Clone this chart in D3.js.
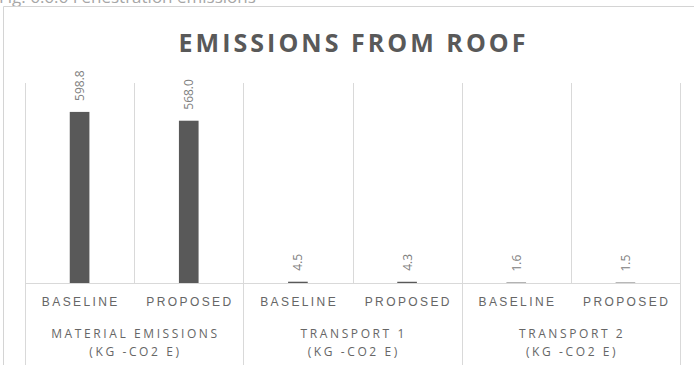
<!DOCTYPE html>
<html lang="en">
<head>
    <meta charset="UTF-8">
    <title>Emissions from Roof</title>
    <script src="https://d3js.org/d3.v7.min.js"></script>
    <style>
        body { margin: 0; background: #fff; }
        svg { display: block; font-family: "Open Sans", sans-serif; }
        .sub-axis text { font-size: 12px; fill: #666; letter-spacing: 2.4px; }
        .group-label { font-size: 12px; fill: #666; letter-spacing: 2.6px; }
        .value-label { font-size: 12px; fill: #808080; }
        .grid { stroke: #d9d9d9; stroke-width: 1px; }
    </style>
</head>
<body>
    <svg width="694" height="365"></svg>

    <script>
        // Chart data
        const subLabels = ["BASELINE", "PROPOSED", "BASELINE", "PROPOSED", "BASELINE", "PROPOSED"];
        const groupLines = [
            ["MATERIAL EMISSIONS", "(KG -CO2 E)"],
            ["TRANSPORT 1", "(KG -CO2 E)"],
            ["TRANSPORT 2", "(KG -CO2 E)"]
        ];
        const values = [598.8, 568.0, 4.5, 4.3, 1.6, 1.5];
        const yMax = 700;

        const svg = d3.select("svg");
        const plot = { left: 25, right: 680, top: 83, bottom: 283 };

        // Caption above the chart box (cut off at the top)
        svg.append("text")
            .attr("x", -1)
            .attr("y", 3)
            .attr("font-size", 17)
            .attr("fill", "#a6a6a6")
            .text("Fig. 6.6.6 Fenestration emissions");

        // Chart frame
        svg.append("path")
            .attr("d", "M3.5,365 V6.5 H700")
            .attr("fill", "none")
            .attr("stroke", "#d4d4d4");

        // Title
        svg.append("text")
            .attr("x", 352)
            .attr("y", 52)
            .attr("text-anchor", "middle")
            .attr("font-size", 25)
            .attr("font-weight", "bold")
            .attr("fill", "#595959")
            .attr("textLength", 347)
            .attr("lengthAdjust", "spacing")
            .text("EMISSIONS FROM ROOF");

        const idx = values.map((d, i) => i);

        const x = d3.scaleBand()
            .domain(idx)
            .range([plot.left, plot.right])
            .paddingInner(0)
            .paddingOuter(0);

        const y = d3.scaleLinear()
            .domain([0, yMax])
            .range([plot.bottom, plot.top]);

        // Vertical grid lines between categories
        const edges = idx.map(i => x(i)).concat([plot.right]);
        svg.selectAll(".vline")
            .data(edges)
          .enter().append("line")
            .attr("class", "grid")
            .attr("x1", d => Math.round(d) + 0.5)
            .attr("x2", d => Math.round(d) + 0.5)
            .attr("y1", plot.top)
            .attr("y2", (d, i) => i % 2 === 0 ? 365 : plot.bottom);

        // Bars
        const barW = x.bandwidth() * 0.18;
        svg.selectAll(".bar")
            .data(values)
          .enter().append("rect")
            .attr("x", (d, i) => x(i) + (x.bandwidth() - barW) / 2)
            .attr("y", d => y(d))
            .attr("width", barW)
            .attr("height", d => y(0) - y(d))
            .attr("fill", "#595959");

        // Value labels (rotated)
        svg.selectAll(".value-label")
            .data(values)
          .enter().append("text")
            .attr("class", "value-label")
            .attr("transform", (d, i) =>
                `translate(${x(i) + x.bandwidth() / 2 + 4.5},${y(d) - 11}) rotate(-90)`)
            .text(d => d.toFixed(1));

        // Baseline axis line
        svg.append("line")
            .attr("class", "grid")
            .attr("x1", plot.left)
            .attr("x2", plot.right)
            .attr("y1", plot.bottom + 0.5)
            .attr("y2", plot.bottom + 0.5);

        // Sub category axis
        const subAxis = svg.append("g")
            .attr("class", "sub-axis")
            .attr("transform", `translate(1.2,${plot.bottom})`)
            .call(d3.axisBottom(x).tickSize(0).tickPadding(14).tickFormat(i => subLabels[i]));
        subAxis.select(".domain").remove();
        subAxis.selectAll("text").attr("font-family", null).attr("font-size", null);

        // Group labels
        const groupW = (plot.right - plot.left) / groupLines.length;
        groupLines.forEach((lines, g) => {
            lines.forEach((t, k) => {
                svg.append("text")
                    .attr("class", "group-label")
                    .attr("x", plot.left + groupW * (g + 0.5) + 1.3)
                    .attr("y", 338 + k * 18)
                    .attr("text-anchor", "middle")
                    .text(t);
            });
        });
    </script>
</body>
</html>
